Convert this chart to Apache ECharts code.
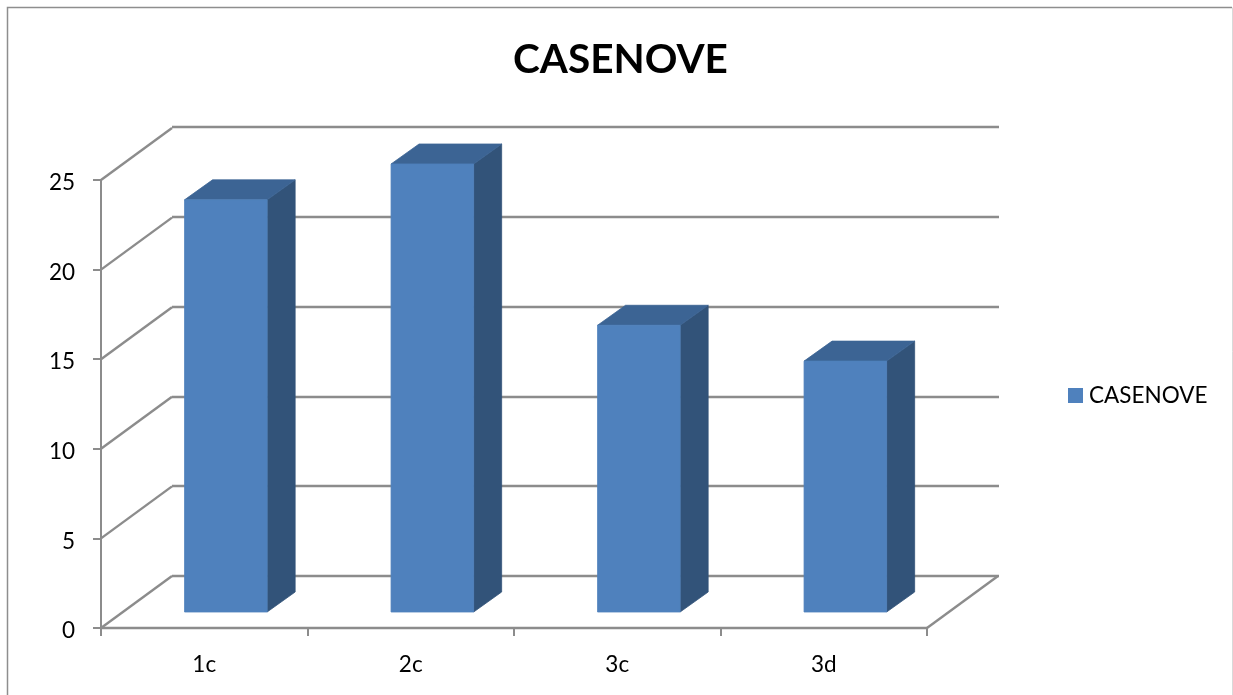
<!DOCTYPE html>
<html>
<head>
<meta charset="utf-8">
<style>html,body{margin:0;padding:0;background:#fff}#c{width:1233px;height:695px}</style>
<script src="https://cdn.jsdelivr.net/npm/echarts@6/dist/echarts.min.js"></script>
</head>
<body>
<div id="c"></div>
<script>
const chartTitle = 'CASENOVE';
const seriesName = 'CASENOVE';
const categories = ['1c', '2c', '3c', '3d'];
const values = [23, 25, 16, 14];
const yTicks = [0, 5, 10, 15, 20, 25];

const FONT = 'Lato';
const GRID = '#8c8c8c';
const FRONT = '#4f81bd', TOP = '#3c6494', SIDE = '#325379';
const WALL_DX = 71, WALL_DY = -52;   // depth of the chart box
const BAR_DX = 28, BAR_DY = -20;     // depth of a bar
const BAR_SHIFT_X = 21.6, BAR_SHIFT_Y = -16; // bars stand mid-way into the box

const chart = echarts.init(document.getElementById('c'), null, {renderer: 'canvas'});

function renderWall(params, api) {
  const v = api.value(0);
  const cs = params.coordSys;
  const p = api.coord([0, v]);
  const lineStyle = {stroke: GRID, lineWidth: 2.4, fill: null};
  const x0 = cs.x, y0 = p[1];
  const children = [{type: 'line', shape: {x1: x0, y1: y0, x2: x0 + WALL_DX, y2: y0 + WALL_DY}, style: lineStyle}];
  if (v === 0) {
    const x1 = cs.x + cs.width;
    children.push({type: 'line', shape: {x1: x1, y1: y0, x2: x1 + WALL_DX, y2: y0 + WALL_DY}, style: lineStyle});
  }
  return {type: 'group', children};
}

function renderBar(params, api) {
  const i = api.value(0), v = api.value(1);
  const w = api.size([1, 0])[0] * 0.4;
  const base = api.coord([i, 0]), top = api.coord([i, v]);
  const l = base[0] - w / 2 + BAR_SHIFT_X, r = l + w;
  const yb = base[1] + BAR_SHIFT_Y, yt = top[1] + BAR_SHIFT_Y;
  return {type: 'group', children: [
    {type: 'polygon', shape: {points: [[r, yt], [r + BAR_DX, yt + BAR_DY], [r + BAR_DX, yb + BAR_DY], [r, yb]]}, style: {fill: SIDE, stroke: SIDE, lineWidth: 0.8}},
    {type: 'polygon', shape: {points: [[l, yt], [l + BAR_DX, yt + BAR_DY], [r + BAR_DX, yt + BAR_DY], [r, yt]]}, style: {fill: TOP, stroke: TOP, lineWidth: 0.8}},
    {type: 'rect', shape: {x: l, y: yt, width: w, height: yb - yt}, style: {fill: FRONT, stroke: FRONT, lineWidth: 0.8}}
  ]};
}

chart.setOption({
  animation: false,
  backgroundColor: '#fff',
  title: {
    text: chartTitle, left: 508, top: 34,
    textStyle: {fontFamily: FONT, fontSize: 40.5, fontWeight: 'bold', color: '#000'}
  },
  legend: {
    data: [{name: seriesName, icon: 'rect'}],
    left: 1063, top: 379, itemWidth: 15, itemHeight: 15, itemGap: 6,
    textStyle: {fontFamily: FONT, fontSize: 22.5, color: '#000', padding: [3, 0, 0, 1]}
  },
  grid: [
    {left: 101, right: 306, top: 180, bottom: 67},
    {left: 172, right: 234, top: 127, bottom: 119},
    {left: 101, right: 306, top: 183, bottom: 64}   // carries the value labels, which sit a little below their ticks
  ],
  xAxis: [
    {
      type: 'category', gridIndex: 0, data: categories, boundaryGap: true,
      axisLine: {onZero: false, lineStyle: {color: GRID, width: 2.4}},
      axisTick: {show: true, length: 8, alignWithLabel: false, lineStyle: {color: GRID, width: 2}},
      axisLabel: {margin: 25, fontFamily: FONT, fontSize: 22.5, color: '#000'},
      splitLine: {show: false}
    },
    {
      type: 'category', gridIndex: 1, data: categories,
      axisLine: {show: false}, axisTick: {show: false}, axisLabel: {show: false}, splitLine: {show: false}
    },
    {
      type: 'category', gridIndex: 2, data: categories,
      axisLine: {show: false}, axisTick: {show: false}, axisLabel: {show: false}, splitLine: {show: false}
    }
  ],
  yAxis: [
    {
      type: 'value', gridIndex: 0, min: 0, max: 25, interval: 5,
      axisLine: {show: true, lineStyle: {color: GRID, width: 2}},
      axisTick: {show: true, length: 8, lineStyle: {color: GRID, width: 2}},
      axisLabel: {show: false},
      splitLine: {show: false}
    },
    {
      type: 'value', gridIndex: 1, min: 0, max: 25, interval: 5,
      axisLine: {show: false}, axisTick: {show: false}, axisLabel: {show: false},
      splitLine: {show: true, lineStyle: {color: GRID, width: 2.4}}
    },
    {
      type: 'value', gridIndex: 2, min: 0, max: 25, interval: 5,
      axisLine: {show: false}, axisTick: {show: false}, splitLine: {show: false},
      axisLabel: {margin: 26, fontFamily: FONT, fontSize: 22.5, color: '#000'}
    }
  ],
  series: [
    {
      type: 'custom', name: 'wall', xAxisIndex: 0, yAxisIndex: 0, z: 1, silent: true,
      renderItem: renderWall, data: yTicks.map(v => [v]), encode: {y: 0}
    },
    {
      type: 'custom', name: seriesName, xAxisIndex: 0, yAxisIndex: 0, z: 3,
      itemStyle: {color: FRONT},
      renderItem: renderBar, data: values.map((v, i) => [i, v]), encode: {x: 0, y: 1}
    }
  ],
  graphic: [
    {type: 'polyline', z: -1, silent: true, shape: {points: [[7.5, 695], [7.5, 7.5], [1232, 7.5]]}, style: {stroke: '#8e8e8e', lineWidth: 1.5, fill: null}},
    {type: 'line', z: -1, silent: true, shape: {x1: 1232.5, y1: 7.5, x2: 1232.5, y2: 695}, style: {stroke: '#d9d9d9', lineWidth: 1}}
  ]
});
</script>
</body>
</html>
